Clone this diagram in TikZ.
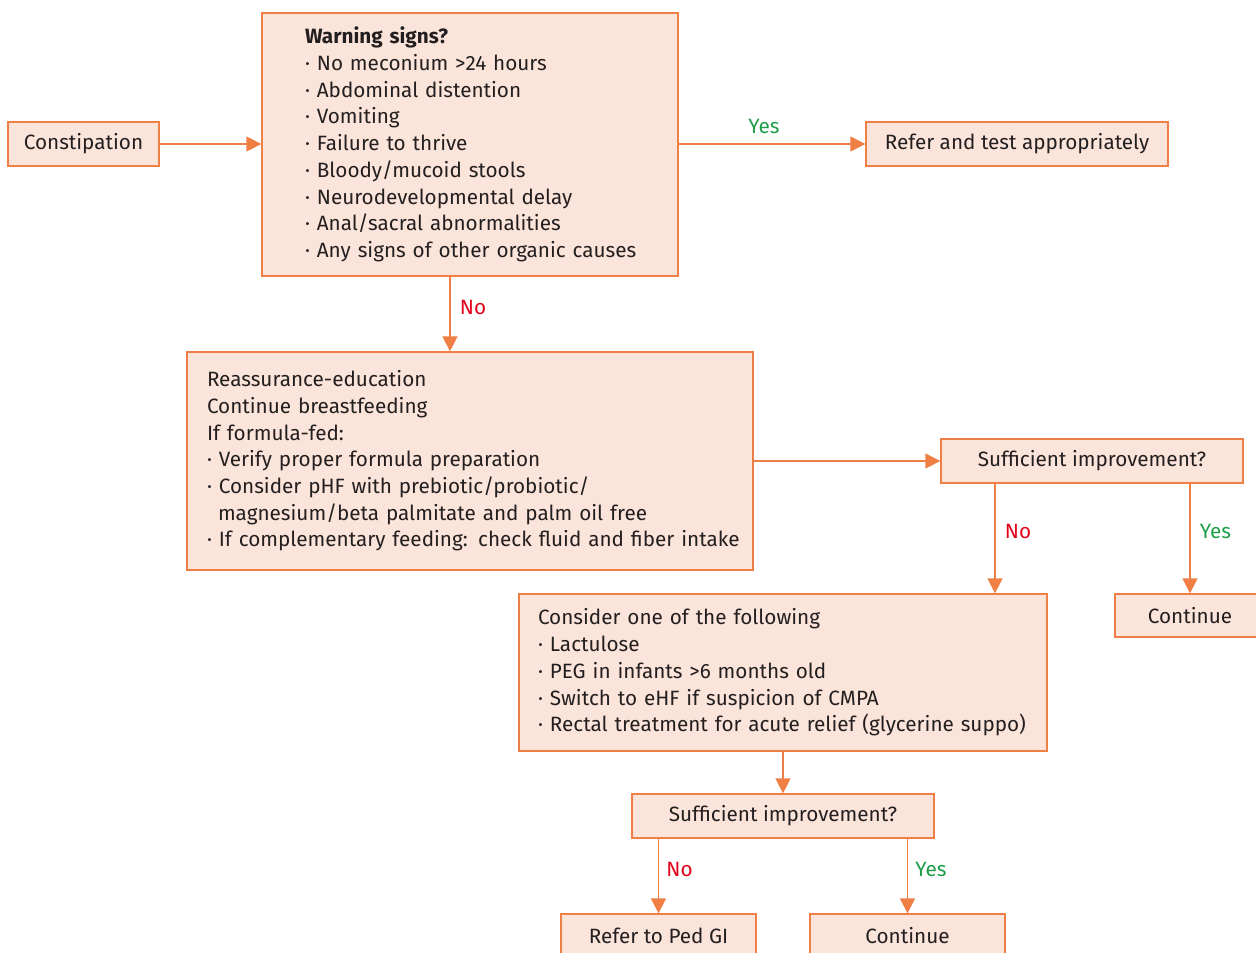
\documentclass[tikz,border=0pt]{standalone}
\usepackage{fontspec}
\setmainfont{Fira Sans}
\usetikzlibrary{arrows.meta}
\definecolor{orng}{HTML}{EF7F45}
\definecolor{boxfill}{HTML}{FBE4DA}
\definecolor{txtc}{HTML}{231F20}
\definecolor{yesg}{HTML}{1E9E48}
\definecolor{nor}{HTML}{E2001A}
\newcommand\lin[1]{\mbox{#1}}
\begin{document}
\begin{tikzpicture}[x=1pt,y=-1pt,
  font=\fontsize{20.7}{26.7}\selectfont, text=txtc,
  box/.style={draw=orng, fill=boxfill, line width=1.3pt, rectangle, inner sep=0pt},
  arr/.style={draw=orng, line width=1.3pt, -{Triangle[length=15pt,width=15pt]}},
  yes/.style={text=yesg},
  no/.style={text=nor}]
\useasboundingbox (0,0) rectangle (1256,953);

\node[box, minimum width=151pt, minimum height=44pt] (cons) at (83.5,144) {Constipation};
\node[box, minimum width=416pt, minimum height=263pt, text width=330pt, inner xsep=43pt, align=left] (warn) at (470,144.5)
 {\lin{\textbf{Warning signs?}}\\
  \lin{· No meconium >24 hours}\\
  \lin{· Abdominal distention}\\
  \lin{· Vomiting}\\
  \lin{· Failure to thrive}\\
  \lin{· Bloody/mucoid stools}\\
  \lin{· Neurodevelopmental delay}\\
  \lin{· Anal/sacral abnormalities}\\
  \lin{· Any signs of other organic causes}};
\node[box, minimum width=302pt, minimum height=44pt] (refer) at (1017,144) {Refer and test appropriately};
\node[box, minimum width=566pt, minimum height=218pt, text width=526pt, inner xsep=20pt, align=left] (reas) at (470,461)
 {\lin{Reassurance-education}\\
  \lin{Continue breastfeeding}\\
  \lin{If formula-fed:}\\
  \lin{· Verify proper formula preparation}\\
  \lin{· Consider pHF with prebiotic/probiotic/}\\
  \lin{\hspace*{11pt}magnesium/beta palmitate and palm oil free}\\
  \lin{· If complementary feeding: check fluid and fiber intake}};
\node[box, minimum width=302pt, minimum height=44pt] (suff1) at (1092,461) {Sufficient improvement?};
\node[box, minimum width=150pt, minimum height=43pt] (cont1) at (1190,615.5) {Continue};
\node[box, minimum width=528pt, minimum height=157pt, text width=490pt, inner xsep=19pt, align=left] (opt) at (783,672.5)
 {\lin{Consider one of the following}\\
  \lin{· Lactulose}\\
  \lin{· PEG in infants >6 months old}\\
  \lin{· Switch to eHF if suspicion of CMPA}\\
  \lin{· Rectal treatment for acute relief (glycerine suppo)}};
\node[box, minimum width=302pt, minimum height=44pt] (suff2) at (783,816) {Sufficient improvement?};
\node[box, minimum width=195pt, minimum height=44pt] (ped) at (658.5,936) {Refer to Ped GI};
\node[box, minimum width=195pt, minimum height=44pt] (cont2) at (907.5,936) {Continue};

\draw[arr] (cons.east) -- (warn.west |- cons.east);
\draw[arr] (refer.west -| warn.east) -- node[yes, above=6pt, xshift=-8pt] {Yes} (refer.west);
\draw[arr] ([xshift=-20pt]warn.south) -- node[no, right=6pt, yshift=7pt] {No} ([xshift=-20pt]reas.north);
\draw[arr] (reas.east) -- (suff1.west);
\draw[arr] ([xshift=-97pt]suff1.south) -- node[no, right=6pt, yshift=7.5pt] {No} ([xshift=-97pt]suff1.south |- opt.north);
\draw[arr] (cont1.north |- suff1.south) -- node[yes, right=6pt, yshift=7.5pt] {Yes} (cont1.north);
\draw[arr] (opt.south) -- (suff2.north);
\draw[arr] (ped.north |- suff2.south) -- node[no, right=4pt, yshift=7pt] {No} (ped.north);
\draw[arr] (cont2.north |- suff2.south) -- node[yes, right=4pt, yshift=7pt] {Yes} (cont2.north);
\end{tikzpicture}
\end{document}
